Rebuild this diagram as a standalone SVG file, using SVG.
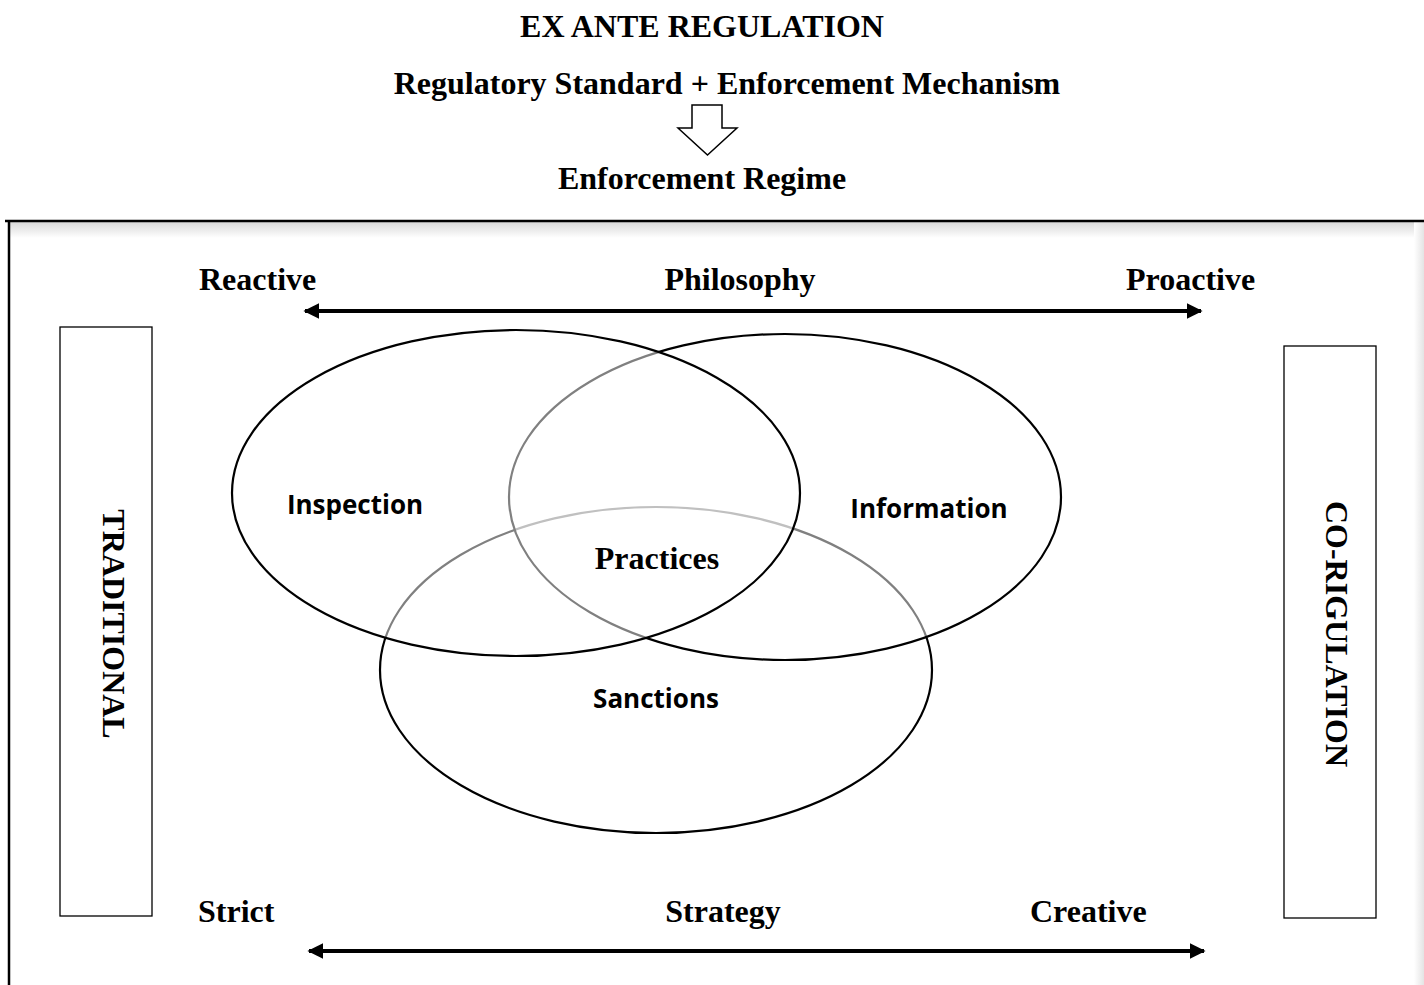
<svg xmlns="http://www.w3.org/2000/svg" width="1424" height="985" viewBox="0 0 1424 985">
  <defs>
    <style>
      .serif { font-family: "Liberation Serif", "Times New Roman", serif; font-weight: bold; fill: #000; font-size: 32px; }
      .sans { font-family: "Open Sans", "Noto Sans", sans-serif; font-weight: bold; fill: #000; font-size: 26px; }
      .ring { fill: #fff; fill-opacity: 0.5; stroke: #000; stroke-width: 2.2; }
      .box { fill: #fff; stroke: #000; stroke-width: 1.3; }
      .axis { stroke: #000; stroke-width: 4; fill: none; }
    </style>
    <marker id="head" viewBox="0 0 10 10" refX="9" refY="5" markerWidth="4" markerHeight="4" markerUnits="strokeWidth" orient="auto-start-reverse">
      <path d="M0,0 L10,5 L0,10 z" fill="#000"/>
    </marker>
    <linearGradient id="shadeTop" x1="0" y1="0" x2="0" y2="1">
      <stop offset="0" stop-color="#d8d8d8"/>
      <stop offset="1" stop-color="#ffffff"/>
    </linearGradient>
    <linearGradient id="shadeRight" x1="0" y1="0" x2="1" y2="0">
      <stop offset="0" stop-color="#ffffff"/>
      <stop offset="1" stop-color="#e4e4e4"/>
    </linearGradient>
  </defs>

  <rect width="1424" height="985" fill="#fff"/>

  <!-- heading -->
  <g id="heading">
    <text class="serif" x="702" y="37" text-anchor="middle">EX ANTE REGULATION</text>
    <text class="serif" x="727" y="94" text-anchor="middle">Regulatory Standard + Enforcement Mechanism</text>
    <path d="M692,105 L722,105 L722,128 L737,128 L707.5,155 L678,128 L692,128 Z" fill="#fff" stroke="#000" stroke-width="1.5"/>
    <text class="serif" x="702" y="189" text-anchor="middle">Enforcement Regime</text>
  </g>

  <!-- panel frame with soft shadow -->
  <g id="frame">
    <rect x="10" y="222" width="1414" height="16" fill="url(#shadeTop)"/>
    <rect x="1414" y="222" width="10" height="763" fill="url(#shadeRight)"/>
    <line x1="5" y1="221" x2="1424" y2="221" stroke="#000" stroke-width="2.5"/>
    <line x1="9" y1="222" x2="9" y2="985" stroke="#000" stroke-width="2.5"/>
  </g>

  <!-- side bars -->
  <g id="traditional">
    <rect class="box" x="60" y="327" width="92" height="589"/>
    <text class="serif" text-anchor="middle" transform="translate(103,624) rotate(90)">TRADITIONAL</text>
  </g>
  <g id="co-regulation">
    <rect class="box" x="1284" y="346" width="92" height="572"/>
    <text class="serif" text-anchor="middle" transform="translate(1326,634) rotate(90)">CO-RIGULATION</text>
  </g>

  <!-- axis labels -->
  <g id="philosophy">
    <text class="serif" x="199" y="290">Reactive</text>
    <text class="serif" x="740" y="290" text-anchor="middle">Philosophy</text>
    <text class="serif" x="1126" y="290">Proactive</text>
  </g>
  <g id="strategy">
    <text class="serif" x="198" y="922">Strict</text>
    <text class="serif" x="723" y="922" text-anchor="middle">Strategy</text>
    <text class="serif" x="1030" y="922">Creative</text>
  </g>

  <!-- connectors -->
  <g id="connectors">
    <line class="axis" x1="305" y1="311" x2="1201" y2="311" marker-start="url(#head)" marker-end="url(#head)"/>
    <line class="axis" x1="309" y1="951" x2="1204" y2="951" marker-start="url(#head)" marker-end="url(#head)"/>
  </g>

  <!-- overlapping sets -->
  <g id="sanctions">
    <ellipse class="ring" cx="656" cy="670" rx="276" ry="163"/>
  </g>
  <g id="information">
    <ellipse class="ring" cx="785" cy="497" rx="276" ry="163"/>
  </g>
  <g id="inspection">
    <ellipse class="ring" cx="516" cy="493" rx="284" ry="163"/>
  </g>

  <g id="labels">
    <text class="sans" x="355" y="514" text-anchor="middle">Inspection</text>
    <text class="sans" x="929" y="518" text-anchor="middle">Information</text>
    <text class="serif" x="657" y="569" text-anchor="middle">Practices</text>
    <text class="sans" x="656" y="708" text-anchor="middle">Sanctions</text>
  </g>
</svg>
